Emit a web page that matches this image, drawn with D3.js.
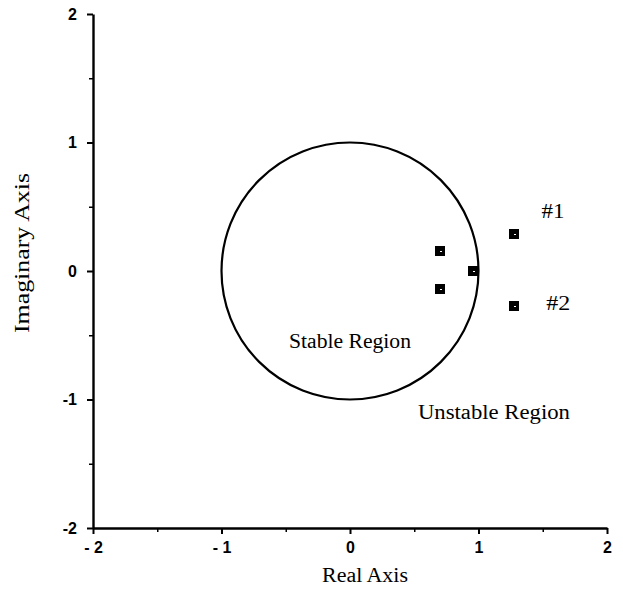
<!DOCTYPE html>
<html>
<head>
<meta charset="utf-8">
<script src="https://cdn.jsdelivr.net/npm/d3@7"></script>
<style>
  body { margin: 0; background: #fff; }
  .tick text { font-family: "Liberation Sans", Arial, sans-serif; font-size: 16px; font-weight: bold; fill: #000; }
  .title { font-family: "Liberation Serif", "Times New Roman", serif; font-size: 20px; fill: #000; }
</style>
</head>
<body>
<svg id="chart" width="623" height="590"></svg>
<script>
// pole locations (real, imaginary)
const realParts = [0.70, 0.70, 0.955, 1.28, 1.28];
const imagParts = [0.155, -0.14, 0.0, 0.285, -0.27];
const majorTicks = [-2, -1, 0, 1, 2];
const minorTicks = [-1.5, -0.5, 0.5, 1.5];
const xTickLabels = ["- 2", "- 1", "0", "1", "2"];
const yTickLabels = ["-2", "-1", "0", "1", "2"];
const annotations = [
  { text: "#1", re: 1.58, im: 0.41, len: 23 },
  { text: "#2", re: 1.62, im: -0.30, len: 24 },
  { text: "Stable Region", re: 0.0, im: -0.60, len: 122 },
  { text: "Unstable Region", re: 1.12, im: -1.15, len: 152 }
];

const margin = { top: 14, right: 16, bottom: 62, left: 93 };
const width = 607 - margin.left;
const height = 528 - margin.top;

const svg = d3.select("#chart");
const g = svg.append("g").attr("transform", `translate(${margin.left},${margin.top})`);

const x = d3.scaleLinear().domain([-2, 2]).range([0, width]);
const y = d3.scaleLinear().domain([-2, 2]).range([height, 0]);

// minor ticks
g.append("g")
  .attr("transform", `translate(0,${height})`)
  .call(d3.axisBottom(x).tickValues(minorTicks).tickSize(4).tickFormat(""))
  .call(a => a.select(".domain").remove())
  .selectAll("line").attr("stroke-width", 1.5);
g.append("g")
  .call(d3.axisLeft(y).tickValues(minorTicks).tickSize(4).tickFormat(""))
  .call(a => a.select(".domain").remove())
  .selectAll("line").attr("stroke-width", 1.5);

// major axes
const xAxis = g.append("g")
  .attr("transform", `translate(0,${height})`)
  .call(d3.axisBottom(x).tickValues(majorTicks).tickSize(6).tickSizeOuter(0)
    .tickPadding(8).tickFormat((d, i) => xTickLabels[i]));
const yAxis = g.append("g")
  .call(d3.axisLeft(y).tickValues(majorTicks).tickSize(6).tickSizeOuter(0)
    .tickPadding(10).tickFormat((d, i) => yTickLabels[i]));
[xAxis, yAxis].forEach(a => {
  a.select(".domain").attr("stroke-width", 2.4);
  a.selectAll(".tick line").attr("stroke-width", 2);
});

// unit circle
g.append("circle")
  .attr("cx", x(0)).attr("cy", y(0))
  .attr("r", x(1) - x(0))
  .attr("fill", "none").attr("stroke", "#000").attr("stroke-width", 2.2);

// poles
const poles = realParts.map((re, i) => ({ re, im: imagParts[i] }));
const s = 10;
g.selectAll("rect.pole").data(poles).join("rect")
  .attr("class", "pole")
  .attr("shape-rendering", "crispEdges")
  .attr("x", d => Math.round(x(d.re) - s / 2)).attr("y", d => Math.round(y(d.im) - s / 2))
  .attr("width", s).attr("height", s).attr("fill", "#000");
g.selectAll("rect.inner").data(poles).join("rect")
  .attr("class", "inner")
  .attr("shape-rendering", "crispEdges")
  .attr("x", d => Math.round(x(d.re))).attr("y", d => Math.round(y(d.im)))
  .attr("width", 2).attr("height", 1).attr("fill", "#fff");

// annotations
g.selectAll("text.note").data(annotations).join("text")
  .attr("class", "title note")
  .attr("x", d => x(d.re) - d.len / 2).attr("y", d => y(d.im))
  .attr("textLength", d => d.len).attr("lengthAdjust", "spacingAndGlyphs")
  .text(d => d.text);

// axis titles
svg.append("text").attr("class", "title")
  .attr("x", 322).attr("y", 582)
  .attr("textLength", 86).attr("lengthAdjust", "spacingAndGlyphs")
  .text("Real Axis");
svg.append("text").attr("class", "title")
  .attr("transform", `translate(29,333) rotate(-90)`)
  .attr("textLength", 160).attr("lengthAdjust", "spacingAndGlyphs")
  .text("Imaginary Axis");
</script>
</body>
</html>
